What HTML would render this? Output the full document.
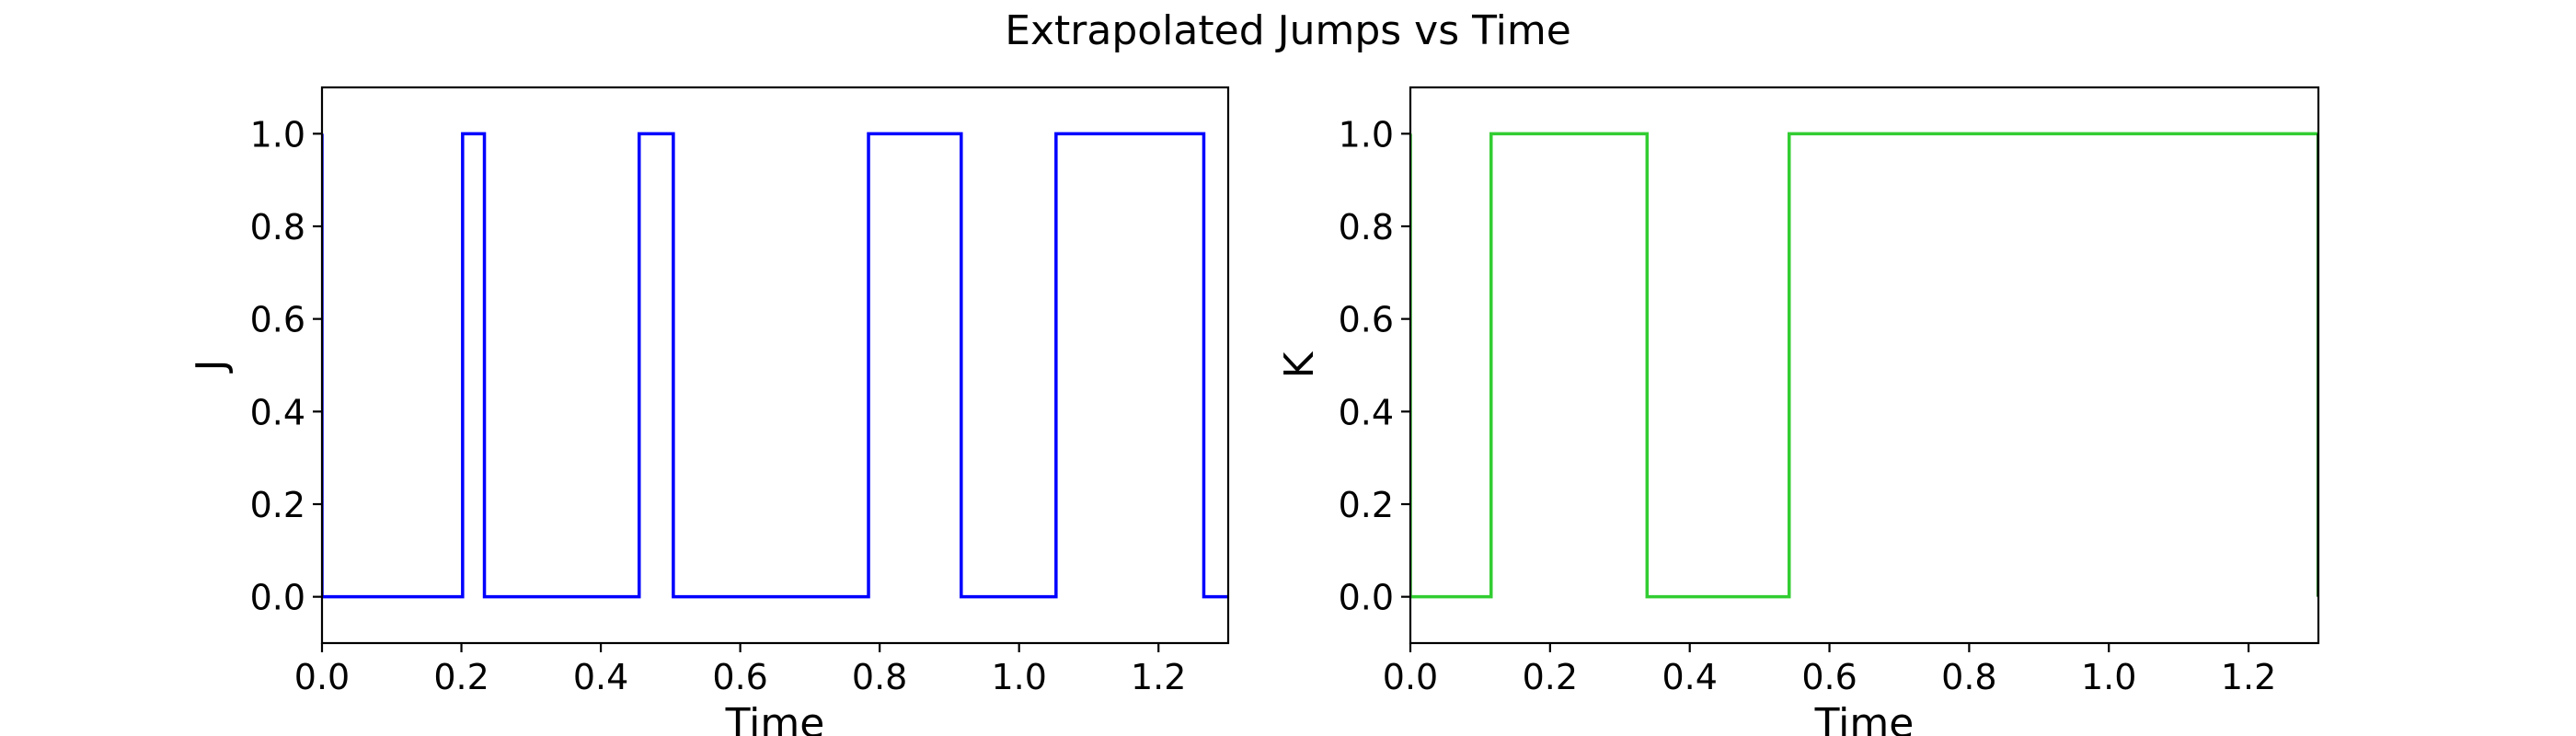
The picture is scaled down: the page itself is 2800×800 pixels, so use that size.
<!DOCTYPE html>
<html><head><meta charset="utf-8"><style>
body{margin:0;background:#fff}
svg{display:block;font-family:"DejaVu Sans","Liberation Sans",sans-serif}
</style></head><body>
<svg id="fig" width="2800" height="800" viewBox="0 0 2800 800">
<text x="1400" y="48" font-size="44" text-anchor="middle">Extrapolated Jumps vs Time</text>
</svg>
<script>
const jEdges = [0, 0.2017, 0.233, 0.455, 0.504, 0.784, 0.917, 1.053, 1.265, 1.3];
const jValues = [0, 1, 0, 1, 0, 1, 0, 1, 0];
const kEdges = [0, 0.1156, 0.3389, 0.5423, 1.3];
const kValues = [0, 1, 0, 1];
const xTicks = [0.0, 0.2, 0.4, 0.6, 0.8, 1.0, 1.2];
const yTicks = [0.0, 0.2, 0.4, 0.6, 0.8, 1.0];
const xDomain = [0, 1.3];
const yDomain = [-0.1, 1.1];

const NS = "http://www.w3.org/2000/svg";
const svg = document.getElementById('fig');
function mk(tag, attrs, parent){const e=document.createElementNS(NS,tag);for(const k in attrs)e.setAttribute(k,attrs[k]);(parent||svg).appendChild(e);return e;}

function panel(name, x0, x1, y0, y1, edges, values, color, ylabel, ylabelX){
  const g = mk('g',{});
  
  
  const sx = v => x0 + (v - xDomain[0]) / (xDomain[1]-xDomain[0]) * (x1-x0);
  const sy = v => y1 - (v - yDomain[0]) / (yDomain[1]-yDomain[0]) * (y1-y0);
  // step line
  let d = 'M' + sx(edges[0]) + ' ' + sy(values[0]);
  for (let i=0;i<values.length;i++){
    if(i>0) d += ' L' + sx(edges[i]) + ' ' + sy(values[i]);
    d += ' L' + sx(edges[i+1]) + ' ' + sy(values[i]);
  }
  const clip = mk('clipPath',{id:'c'+name},g);
  mk('rect',{x:x0,y:y0,width:x1-x0,height:y1-y0},clip);
  const line = mk('path',{d:d,fill:'none',stroke:color,'stroke-width':3.5,'clip-path':'url(#c'+name+')'},g);
  
  
  // edge verticals
  const lv = mk('line',{x1:sx(edges[0]),x2:sx(edges[0]),y1:sy(0),y2:sy(values[0]===1?0:1),stroke:color,'stroke-width':3.5,'clip-path':'url(#c'+name+')'},g);
  
  
  const last = values[values.length-1];
  if(last===1){
    const rv = mk('line',{x1:sx(edges[edges.length-1])-1,x2:sx(edges[edges.length-1])-1,y1:sy(0),y2:sy(1),stroke:'#006400','stroke-width':2},g);
    
    
  }
  const frame = mk('rect',{x:x0,y:y0,width:x1-x0,height:y1-y0,fill:'none',stroke:'#000','stroke-width':2.2},g);
  
  
  xTicks.forEach(t=>{
    const x=sx(t);
    const tk=mk('line',{x1:x,x2:x,y1:y1,y2:y1+10,stroke:'#000','stroke-width':2.2},g);
    
    
    const tl=mk('text',{x:x,y:y1+50,'font-size':38,'text-anchor':'middle'},g);
    tl.textContent=t.toFixed(1);
    
    
  });
  yTicks.forEach(t=>{
    const y=sy(t);
    const tk=mk('line',{x1:x0-10,x2:x0,y1:y,y2:y,stroke:'#000','stroke-width':2.2},g);
    
    
    const tl=mk('text',{x:x0-18,y:y+14,'font-size':38,'text-anchor':'end'},g);
    tl.textContent=t.toFixed(1);
    
    
  });
  const xl=mk('text',{x:(x0+x1)/2,y:y1+102,'font-size':44,'text-anchor':'middle'},g);
  xl.textContent='Time';
  
  
  const yl=mk('text',{x:ylabelX,y:(y0+y1)/2,'font-size':44,'text-anchor':'middle',transform:'rotate(-90 '+ylabelX+' '+((y0+y1)/2)+')'},g);
  yl.textContent=ylabel;
  
  
}
panel('j', 350, 1335, 95, 699, jEdges, jValues, '#0000ff', 'J', 244);
panel('k', 1533, 2520, 95, 699, kEdges, kValues, '#32cd32', 'K', 1427);
</script>
</body></html>
